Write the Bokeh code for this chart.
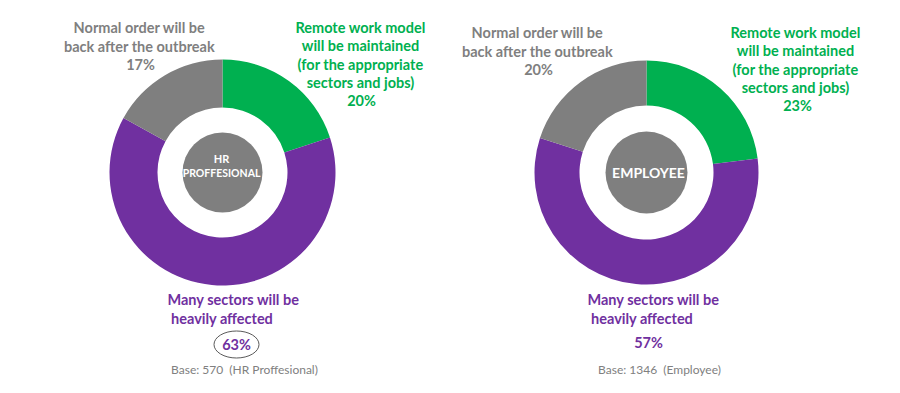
import math
from bokeh.plotting import figure
from bokeh.models import Range1d
from bokeh.core.properties import value
from bokeh.embed import file_html
from bokeh.resources import INLINE

# ---- data ----
categories = ["Remote work model", "Many sectors heavily affected", "Normal order back"]
hr_values = [20, 63, 17]
employee_values = [23, 57, 20]
colors = ["#00B050", "#7030A0", "#7F7F7F"]
center_labels = [["HR", "PROFFESIONAL"], ["EMPLOYEE"]]
base_labels = ["Base: 570\u00a0\u00a0(HR Proffesional)", "Base: 1346\u00a0\u00a0(Employee)"]
green_lines = ["Remote work model", "will be maintained", "(for the appropriate", "sectors and jobs)"]
gray_lines = ["Normal order will be", "back after the outbreak"]
purple_lines = ["Many sectors will be", "\u00a0heavily affected"]

W, H = 884, 377
OFF = 0
p = figure(width=W, height=H, output_backend="svg", toolbar_location=None,
           x_range=Range1d(OFF, OFF + W), y_range=Range1d(-(OFF + H), -OFF),
           x_axis_type=None, y_axis_type=None, min_border=0,
           outline_line_color=None)
p.grid.visible = False
p.background_fill_color = "white"

FONT = value("Lato")

def txt(x, y, s, color, size, style="bold", align="center"):
    p.text(x=[x], y=[-y], text=[s], text_color=color, text_font=FONT,
           text_font_size=size, text_font_style=style, text_align=align,
           text_baseline="middle")

def donut(cx, cy, R, r, core, vals):
    total = sum(vals)
    cum = 0
    starts, ends = [], []
    for v in vals:
        starts.append(math.pi / 2 - 2 * math.pi * cum / total)
        cum += v
        ends.append(math.pi / 2 - 2 * math.pi * cum / total)
    p.annular_wedge(x=[cx] * len(vals), y=[-cy] * len(vals), inner_radius=r, outer_radius=R,
                    start_angle=starts, end_angle=ends, direction="clock",
                    inner_radius_units="screen", outer_radius_units="screen",
                    fill_color=colors, line_color=None)
    p.scatter(x=[cx], y=[-cy], size=2 * core, marker="circle", fill_color="#7F7F7F", line_color=None)

# left donut (HR)
donut(222, 172, 113, 65, 40, hr_values)
txt(221, 158, center_labels[0][0], "white", "11px")
txt(221, 172, center_labels[0][1], "white", "10.5px")
# right donut (Employee)
donut(646, 172, 112, 67, 41, employee_values)
txt(648, 172, center_labels[1][0], "white", "14px")

# labels left
for i, s in enumerate(gray_lines):
    txt(139, 27 + 18.5 * i, s, "#7F7F7F", "14.5px")
txt(140, 64, f"{hr_values[2]}%", "#7F7F7F", "14.5px")
for i, s in enumerate(green_lines):
    txt(360, 27 + 18.3 * i, s, "#00B050", "14.5px")
txt(361, 100, f"{hr_values[0]}%", "#00B050", "14.5px")
txt(167, 299, purple_lines[0], "#7030A0", "14.5px", align="left")
txt(167, 318, purple_lines[1], "#7030A0", "14.5px", align="left")
txt(236, 344, f"{hr_values[1]}%", "#7030A0", "14.5px")
p.ellipse(x=[236], y=[-344], width=45, height=27, fill_color=None, line_color="#595959", line_width=1)
txt(244, 369, base_labels[0], "#808080", "12px", style="normal")

# labels right
for i, s in enumerate(gray_lines):
    txt(537, 32 + 18.5 * i, s, "#7F7F7F", "14.5px")
txt(538, 69, f"{employee_values[2]}%", "#7F7F7F", "14.5px")
for i, s in enumerate(green_lines):
    txt(795, 32 + 18.3 * i, s, "#00B050", "14.5px")
txt(797, 105, f"{employee_values[0]}%", "#00B050", "14.5px")
txt(587, 299, purple_lines[0], "#7030A0", "14.5px", align="left")
txt(587, 318, purple_lines[1], "#7030A0", "14.5px", align="left")
txt(648, 342, f"{employee_values[1]}%", "#7030A0", "14.5px")
txt(659, 369, base_labels[1], "#808080", "12px", style="normal")

open("out.html", "w").write(file_html(p, INLINE))
